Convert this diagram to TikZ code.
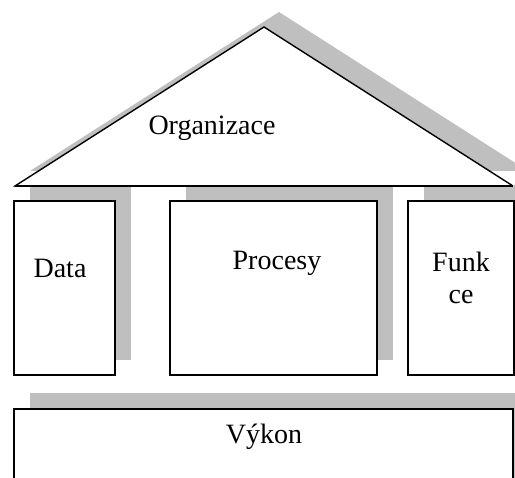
\documentclass[tikz,border=0pt]{standalone}
\usepackage{fontspec}
\setmainfont{Liberation Serif}
\begin{document}
\begin{tikzpicture}[x=1pt,y=-1pt,
  shade/.style={fill=black!25, draw=none},
  part/.style={draw=black, line width=1.4pt, fill=white, line join=miter},
  lbl/.style={font=\fontsize{28}{32}\selectfont, inner sep=0pt, align=center}]
\useasboundingbox (0,0) rectangle (515,478);
\clip (0,0) rectangle (515,478);
% roof
\fill[shade] (30,171) -- (279,12) -- (528,171) -- cycle;
\draw[part] (15,186) -- (264,27) -- (513,186) -- cycle;
% column shadows
\fill[shade] (30,185) rectangle (131,360);
\fill[shade] (186,185) rectangle (393,360);
\fill[shade] (424,185) rectangle (540,360);
% roof base drawn again over the shadows
\draw[line width=1.4pt] (15,186) -- (513,186);
% columns
\draw[part] (14,201) rectangle (115,375);
\draw[part] (170,201) rectangle (377,375);
\draw[part] (408,201) rectangle (514,375);
% foundation
\fill[shade] (30,393) rectangle (540,500);
\draw[part] (14,409) rectangle (513,500);
% labels
\node[lbl] (org) at (212,128) {Organizace};
\node[lbl] (data) at (60,268) {Data};
\node[lbl] (proc) at (277,263) {Procesy};
\node[lbl] (funk) at (461,278) {Funk\\ce};
\node[lbl] (vykon) at (264,437) {Výkon};
\end{tikzpicture}
\end{document}
